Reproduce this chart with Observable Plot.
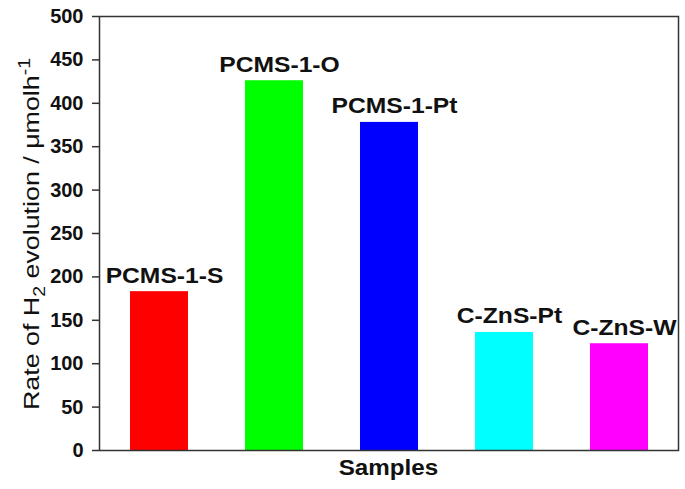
<!DOCTYPE html>
<html><head><meta charset="utf-8">
<script src="https://cdn.jsdelivr.net/npm/d3@7"></script>
<script src="https://cdn.jsdelivr.net/npm/@observablehq/plot@0.6"></script>
<style>body{margin:0;background:#fff;font-family:"Liberation Sans",Arial,sans-serif}</style>
</head><body><div id="chart"></div>
<script>
const samples = ["PCMS-1-S", "PCMS-1-O", "PCMS-1-Pt", "C-ZnS-Pt", "C-ZnS-W"];
const rates = [183, 426, 378, 136, 123];
const colors = ["#ff0000", "#00ff00", "#0000ff", "#00ffff", "#ff00ff"];
const yTicks = [0, 50, 100, 150, 200, 250, 300, 350, 400, 450, 500];

const data = samples.map((s, i) => ({sample: s, rate: rates[i], color: colors[i]}));

const W = 685, H = 489, mL = 99, mR = 7, mT = 16, mB = 39;
const chart = Plot.plot({
  width: W, height: H,
  marginLeft: mL, marginRight: mR, marginTop: mT, marginBottom: mB,
  style: {fontFamily: "Liberation Sans, Arial, sans-serif", background: "#fff"},
  x: {domain: samples, paddingInner: 0.5, paddingOuter: 0.25, axis: null},
  y: {domain: [0, 500], ticks: yTicks, label: null},
  marks: [
    Plot.barY(data, {x: "sample", y: "rate", fill: "color"}),
    Plot.text(data, {x: "sample", y: "rate", text: "sample", lineAnchor: "bottom", dy: -9, dx: 5,
      fontSize: 22, fontWeight: "bold", fill: "#111", className: "barlab"}),
    Plot.axisY({ticks: yTicks, tickSize: 7, tickPadding: 9, fontSize: 20, fontWeight: "bold",
      stroke: "#333", strokeWidth: 1.5, label: null, color: "#111"}),
    Plot.frame({stroke: "#333", strokeWidth: 1.5})
  ]
});
document.getElementById("chart").appendChild(chart);

const svg = d3.select(chart);
// widen bar labels horizontally to match the reference's stretched lettering
svg.selectAll(".barlab text").each(function() {
  const len = this.getComputedTextLength();
  d3.select(this).attr("textLength", len * 1.12).attr("lengthAdjust", "spacingAndGlyphs");
});
// x axis title
const xt = svg.append("text").attr("x", mL + (W - mL - mR) / 2).attr("y", 475)
  .attr("text-anchor", "middle").attr("font-size", 22).attr("font-weight", "bold")
  .attr("fill", "#111").text("Samples");
xt.attr("textLength", xt.node().getComputedTextLength() * 1.1).attr("lengthAdjust", "spacingAndGlyphs");
// y axis title with subscript / superscript
const yl = svg.append("text")
  .attr("transform", `translate(39,234) rotate(-90) scale(1.22,1)`)
  .attr("text-anchor", "middle").attr("font-size", 22).attr("fill", "#111");
yl.append("tspan").text("Rate of H");
yl.append("tspan").attr("font-size", 16).attr("dy", 6).text("2");
yl.append("tspan").attr("dy", -6).text(" evolution / μmolh");
yl.append("tspan").attr("font-size", 16).attr("dy", -9).text("-1");
</script></body></html>
